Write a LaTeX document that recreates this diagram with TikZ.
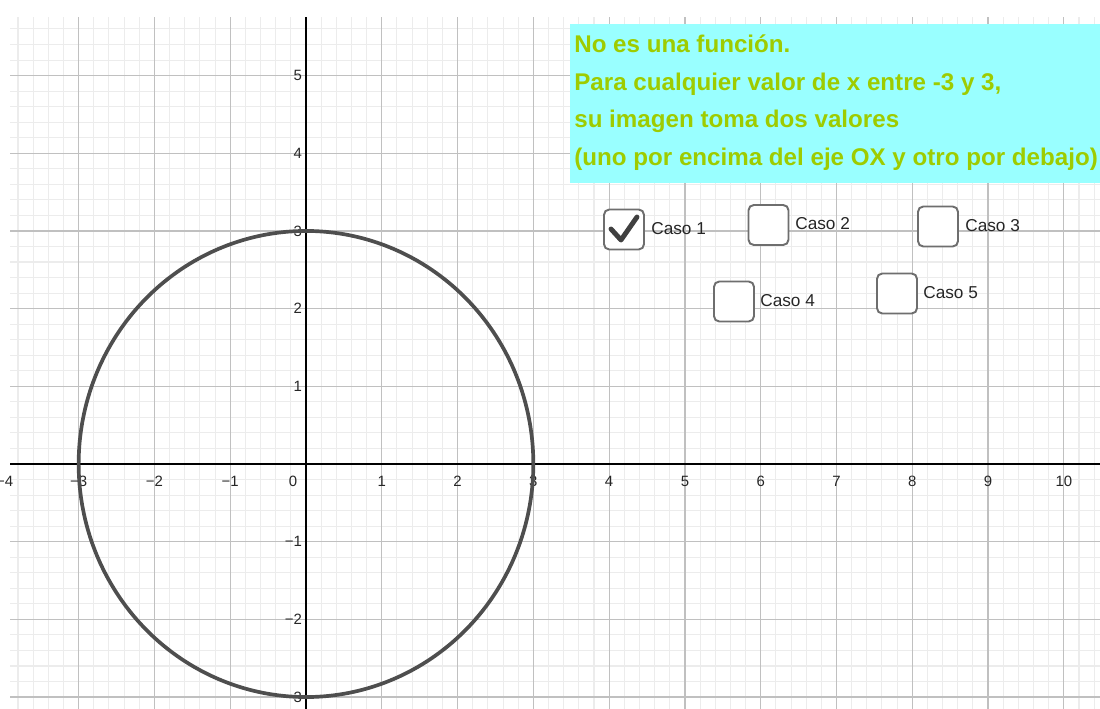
\documentclass[tikz,border=0pt]{standalone}
\usepackage{fontspec}
\setmainfont{Liberation Sans}
\definecolor{minorgrid}{RGB}{236,236,236}
\definecolor{majorgrid}{RGB}{192,192,192}
\definecolor{boxcyan}{RGB}{153,255,255}
\definecolor{msggreen}{RGB}{158,204,0}
\definecolor{curvegray}{RGB}{78,78,78}
\definecolor{cbborder}{RGB}{110,110,110}
\definecolor{checkgray}{RGB}{64,64,64}
\begin{document}
\begin{tikzpicture}[x=0.02cm,y=-0.02cm,
  minorline/.style={draw=minorgrid,line width=0.6pt},
  majorline/.style={draw=majorgrid,line width=0.7pt},
  axisline/.style={draw=black,line width=0.9pt},
  ticklabel/.style={font=\fontsize{8.5}{10}\selectfont,inner sep=0pt,text=black!85},
  curve/.style={draw=curvegray,line width=2.1pt},
  msg/.style={font=\fontsize{13.75}{16}\selectfont\bfseries,text=msggreen,inner sep=0pt,anchor=base west},
  checkbox/.style={draw=cbborder,line width=1.1pt,rounded corners=3pt,fill=white,minimum size=0.8cm,inner sep=0pt},
  caselabel/.style={font=\fontsize{9.8}{12}\selectfont,text=black!85,inner sep=0pt,anchor=west},
  checkmark/.style={draw=checkgray,line width=2.8pt,line cap=round,line join=round}]
\useasboundingbox (0,0) rectangle (1100,709);
\clip (0,0) rectangle (1100,709);
\fill[white] (0,0) rectangle (1100,709);
\begin{scope}[shift={(306,464)},x=1.516cm,y=1.554cm]
  \begin{scope}
    \clip (-3.905,-3.4) rectangle (10.6,5.753);
    \foreach \i in {-19,...,52} \draw[minorline] (\i/5,-3.4) -- (\i/5,5.753);
    \foreach \j in {-16,...,28} \draw[minorline] (-3.905,\j/5) -- (10.6,\j/5);
    \foreach \i in {-3,...,10} \draw[majorline] (\i,-3.4) -- (\i,5.753);
    \foreach \j in {-3,...,5} \draw[majorline] (-3.905,\j) -- (10.6,\j);
  \end{scope}
  \coordinate (xa) at (-3.905,0);
  \coordinate (xb) at (10.6,0);
  \coordinate (ya) at (0,-3.4);
  \coordinate (yb) at (0,5.753);
  \draw[axisline] (xa) -- (xb);
  \draw[axisline] (ya) -- (yb);
  \foreach \i/\t in {-3/−3,-2/−2,-1/−1,1/1,2/2,3/3,4/4,5/5,6/6,7/7,8/8,9/9,10/10}
    \node[ticklabel] (xl\i) at (\i,-0.22) {\t};
  \node[ticklabel] (xlm4) at (-3.975,-0.22) {−4};
  \node[ticklabel] (xl0) at (-0.17,-0.22) {0};
  \foreach \j/\t in {-3/−3,-2/−2,-1/−1,1/1,2/2,3/3,4/4,5/5}
    \node[ticklabel,anchor=east] (yl\j) at (-0.05,\j) {\t};
  \draw[curve] plot[domain=0:360,samples=145,smooth] ({3*cos(\x)},{3*sin(\x)});
\end{scope}
% message box
\fill[boxcyan] (570,24) rectangle (1100,183);
\node[msg] (m1) at (574,53) {No es una función.};
\node[msg] (m2) at (574,90.5) {Para cualquier valor de x entre -3 y 3,};
\node[msg] (m3) at (574,128) {su imagen toma dos valores};
\node[msg] (m4) at (574,165.5) {(uno por encima del eje OX y otro por debajo)};
% checkboxes
\node[checkbox] (cb1) at (624,229.5) {};
\node[checkbox] (cb2) at (768.5,225) {};
\node[checkbox] (cb3) at (938,226.5) {};
\node[checkbox] (cb4) at (734,301.5) {};
\node[checkbox] (cb5) at (897,293.5) {};
\coordinate (ck1) at (611,229);
\coordinate (ck2) at (621,240);
\coordinate (ck3) at (637,217);
\draw[checkmark] (ck1) -- (ck2) -- (ck3);
\node[caselabel] (c1) at (651,229) {Caso 1};
\node[caselabel] (c2) at (795,224) {Caso 2};
\node[caselabel] (c3) at (965,226) {Caso 3};
\node[caselabel] (c4) at (760,301) {Caso 4};
\node[caselabel] (c5) at (923,293) {Caso 5};
\end{tikzpicture}
\end{document}
